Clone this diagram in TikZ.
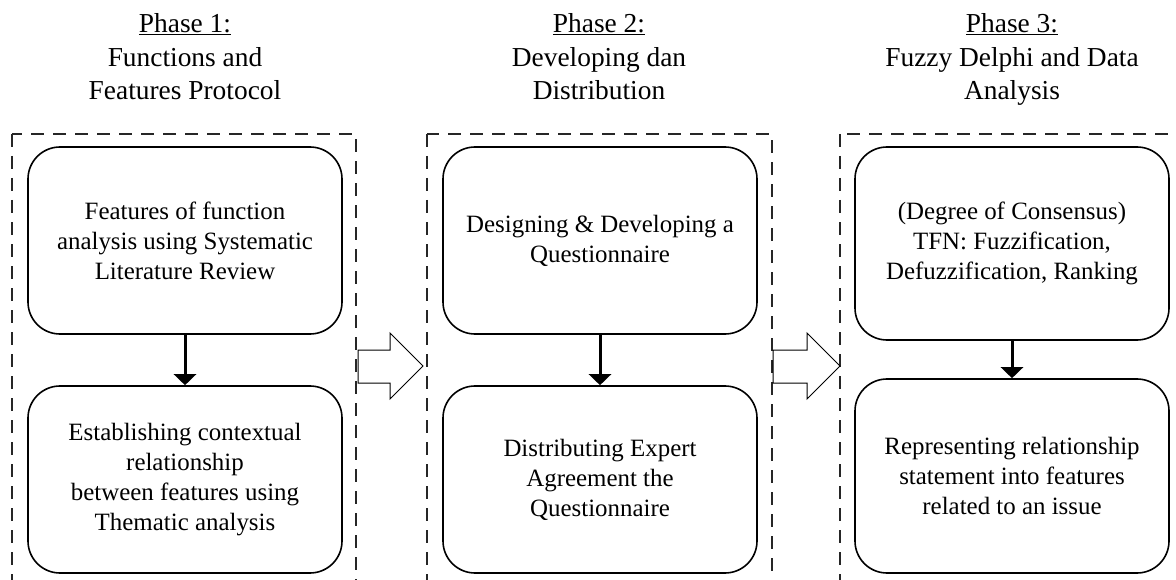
\documentclass[tikz,border=0pt]{standalone}
\usepackage{fontspec}
\setmainfont{Liberation Serif}
\usetikzlibrary{arrows.meta}
\begin{document}
\begin{tikzpicture}[x=1bp,y=-1bp,
  phasebox/.style={draw=black!85, line width=1.6bp, dash pattern=on 13bp off 9bp},
  stepnode/.style={draw, line width=1.6bp, rounded corners=32bp, minimum width=314bp,
    align=center, inner sep=0pt, font=\fontsize{25}{30}\selectfont},
  phasetitle/.style={anchor=north, align=center, inner sep=0pt,
    font=\fontsize{27.5}{33.5}\selectfont},
  flow/.style={line width=3bp, -{Triangle[width=22bp,length=11bp]}},
  blockarrow/.style={draw, line width=1bp, fill=white, line join=miter}]
\useasboundingbox (0,0) rectangle (1176,580);
\clip (0,0) rectangle (1176,580);
\fill[white] (0,0) rectangle (1176,580);

% phase frames
\draw[phasebox] (12,134) rectangle (356,620);
\draw[phasebox] (427,134) rectangle (772,620);
\draw[phasebox] (840,134) rectangle (1200,620);

% titles
\node[phasetitle] (t1) at (185,13.5) {\underline{Phase 1:}\\Functions and\\Features Protocol};
\node[phasetitle] (t2) at (599,13.5) {\underline{Phase 2:}\\Developing dan\\Distribution};
\node[phasetitle] (t3) at (1012,13.5) {\underline{Phase 3:}\\Fuzzy Delphi and Data\\Analysis};

% steps
\node[stepnode, minimum height=187bp] (a1) at (185,240.5) {Features of function\\analysis using Systematic\\Literature Review};
\node[stepnode, minimum height=187bp] (a2) at (185,479.5) {Establishing contextual\\relationship\\between features using\\Thematic analysis};
\node[stepnode, minimum height=187bp] (b1) at (600,240.5) {Designing \& Developing a\\Questionnaire};
\node[stepnode, minimum height=187bp] (b2) at (600,479.5) {Distributing Expert\\Agreement the\\Questionnaire};
\node[stepnode, minimum height=193bp] (c1) at (1012,243.5) {(Degree of Consensus)\\TFN: Fuzzification,\\Defuzzification, Ranking};
\node[stepnode, minimum height=194bp] (c2) at (1012,476) {Representing relationship\\statement into features\\related to an issue};

% vertical flow arrows
\draw[flow] (a1.south) -- (a2.north);
\draw[flow] (b1.south) -- (b2.north);
\draw[flow] (c1.south) -- (c2.north);

% block arrows between phases
\draw[blockarrow] (358,350) -- (390,350) -- (390,333) -- (423,366) -- (390,399) -- (390,383) -- (358,383) -- cycle;
\draw[blockarrow] (773,350) -- (807,350) -- (807,333) -- (840,366) -- (807,399) -- (807,383) -- (773,383) -- cycle;
\end{tikzpicture}
\end{document}
